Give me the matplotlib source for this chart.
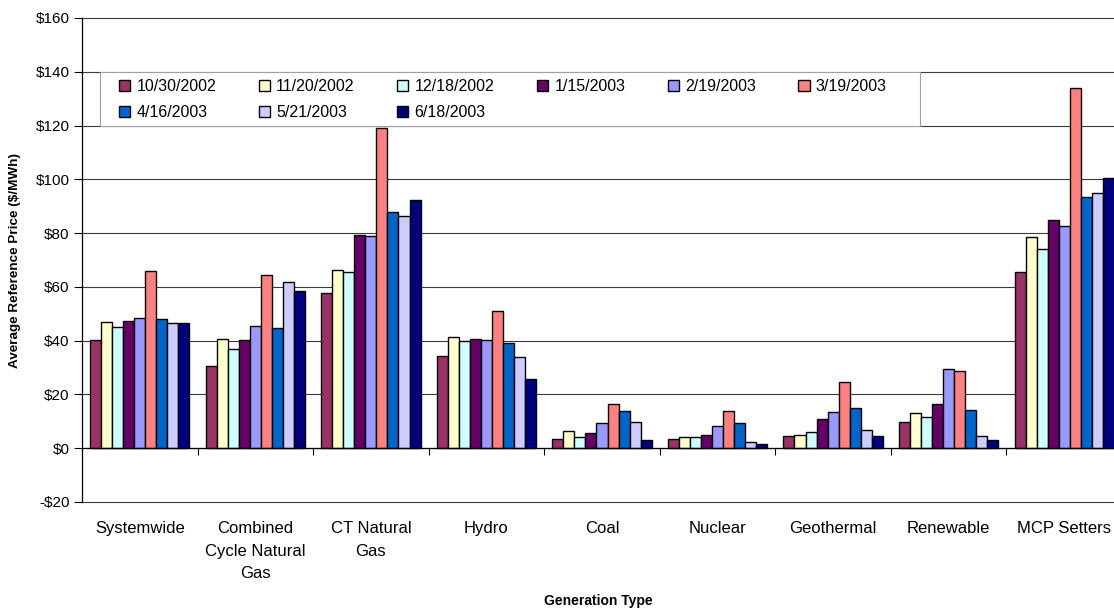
import matplotlib
matplotlib.use("Agg")
import matplotlib.pyplot as plt
from matplotlib.patches import Patch, Rectangle
import numpy as np

plt.rcParams['font.family'] = ['Liberation Sans', 'DejaVu Sans']

categories = ["Systemwide", "Combined\nCycle Natural\nGas", "CT Natural\nGas", "Hydro",
              "Coal", "Nuclear", "Geothermal", "Renewable", "MCP Setters"]
dates = ["10/30/2002", "11/20/2002", "12/18/2002", "1/15/2003", "2/19/2003",
         "3/19/2003", "4/16/2003", "5/21/2003", "6/18/2003"]
colors = ["#993366", "#FFFFCC", "#CCFFFF", "#660066", "#9999FF",
          "#FF8080", "#0066CC", "#CCCCFF", "#000080"]

s_20021030 = [40.1, 30.6, 57.7, 34.2, 3.5, 3.5, 4.7, 9.8, 65.7]
s_20021120 = [47.0, 40.6, 66.3, 41.3, 6.3, 4.0, 5.1, 13.0, 78.6]
s_20021218 = [44.9, 36.8, 65.4, 39.9, 4.3, 4.0, 6.2, 11.6, 74.2]
s_20030115 = [47.3, 40.1, 79.2, 40.6, 5.5, 5.1, 10.7, 16.5, 85.0]
s_20030219 = [48.6, 45.4, 78.9, 40.4, 9.3, 8.1, 13.6, 29.5, 82.5]
s_20030319 = [65.8, 64.6, 119.2, 51.0, 16.5, 13.8, 24.8, 28.6, 133.8]
s_20030416 = [48.0, 44.6, 88.0, 39.2, 13.8, 9.3, 14.9, 14.2, 93.4]
s_20030521 = [46.7, 62.0, 86.5, 33.9, 9.8, 2.3, 6.6, 4.5, 95.1]
s_20030618 = [46.5, 58.5, 92.2, 25.8, 3.0, 1.5, 4.5, 2.9, 100.4]
series = [s_20021030, s_20021120, s_20021218, s_20030115, s_20030219,
          s_20030319, s_20030416, s_20030521, s_20030618]

yticks = list(range(-20, 161, 20))
ytick_labels = [("-$%d" % -v) if v < 0 else ("$%d" % v) for v in yticks]

W, H = 1114, 612
fig = plt.figure(figsize=(W / 100, H / 100), dpi=100)
ax_left, ax_right, ax_top, ax_bot = 82, 1122, 18, 502
ax = fig.add_axes([ax_left / W, 1 - ax_bot / H, (ax_right - ax_left) / W, (ax_bot - ax_top) / H])

n = len(series)
x = np.arange(len(categories))
bw = 0.0955
for j, (vals, c, lab) in enumerate(zip(series, colors, dates)):
    ax.bar(x + (j - (n - 1) / 2) * bw, vals, width=bw, color=c, edgecolor="black",
           linewidth=1.0, zorder=3, label=lab)

ax.set_xlim(-0.5, len(categories) - 0.5)
ax.set_ylim(-20, 160)
ax.set_yticks(yticks)
ax.set_yticklabels(ytick_labels, fontsize=11)
ax.yaxis.grid(True, color="#3a3a3a", linewidth=0.8, zorder=0)
ax.set_axisbelow(True)
for gl in ax.get_ygridlines():
    gl.set_clip_on(False)
ax.tick_params(axis="y", direction="out", length=6, width=0.8, pad=3, colors="black")

ax.set_xticks(x)
ax.set_xticklabels(categories, fontsize=12, linespacing=1.6, va="top")
ax.tick_params(axis="x", length=0, pad=14)

for side in ["top", "right", "bottom"]:
    ax.spines[side].set_visible(False)
ax.spines["left"].set_color("black")
ax.spines["left"].set_linewidth(0.9)

# category axis at zero with tick marks between groups
ax.axhline(0, color="black", linewidth=0.9, zorder=4)
sec = ax.secondary_xaxis(20 / 180)
sec.set_xticks(np.arange(-0.5, len(categories), 1.0))
sec.set_xticklabels([])
sec.tick_params(direction="out", length=5, width=0.8)
sec.spines["bottom"].set_visible(False)

# legend background box
ax.add_patch(Rectangle((-0.344, 120), 7.096, 20, facecolor="white", edgecolor="#a0a0a0",
                       linewidth=0.8, zorder=5))
handles = [Patch(facecolor=c, edgecolor="black", linewidth=1.0) for c in colors]
order = [0, 6, 1, 7, 2, 8, 3, 4, 5]
leg = fig.legend([handles[i] for i in order], [dates[i] for i in order],
                 loc="center left", bbox_to_anchor=(119 / W, 1 - 99.5 / H), ncol=6,
                 frameon=False, fontsize=11.5, handlelength=0.7, handleheight=0.7,
                 handletextpad=0.4, columnspacing=2.65, labelspacing=0.65, borderpad=0,
                 borderaxespad=0)
leg.set_zorder(10)

fig.text(598 / W, 1 - 601 / H, "Generation Type", ha="center", va="center",
         fontsize=10, fontweight="bold")
fig.text(15 / W, 1 - 260 / H, "Average Reference Price ($/MWh)", ha="center", va="center",
         rotation=90, fontsize=9.7, fontweight="bold")

fig.savefig("out.png", dpi=100)
